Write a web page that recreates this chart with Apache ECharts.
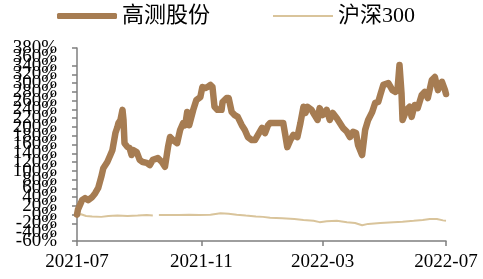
<!DOCTYPE html>
<html>
<head>
<meta charset="utf-8">
<script src="https://cdn.jsdelivr.net/npm/echarts@6/dist/echarts.min.js"></script>
<style>
html,body{margin:0;padding:0;background:#fff;}
#chart{width:483px;height:279px;}
</style>
</head>
<body>
<div id="chart"></div>
<script>
// ---- data ----
const seriesNames = ['高测股份', '沪深300'];
const xTickLabels = ['2021-07-01', '2021-11-01', '2022-03-01', '2022-07-01'];
const yTickValues = [-60, -40, -20, 0, 20, 40, 60, 80, 100, 120, 140, 160, 180, 200, 220, 240, 260, 280, 300, 320, 340, 360, 380];

const stockDates = [
  '2021-07-01','2021-07-02','2021-07-06','2021-07-09','2021-07-12','2021-07-16','2021-07-19','2021-07-22','2021-07-25','2021-07-27',
  '2021-07-31','2021-08-01','2021-08-03','2021-08-05','2021-08-08','2021-08-10','2021-08-11','2021-08-13','2021-08-15','2021-08-16',
  '2021-08-17','2021-08-20','2021-08-22','2021-08-24','2021-08-26','2021-08-29','2021-09-01','2021-09-04','2021-09-08','2021-09-11',
  '2021-09-14','2021-09-19','2021-09-23','2021-09-26','2021-09-29','2021-10-01','2021-10-04','2021-10-08','2021-10-11','2021-10-14',
  '2021-10-16','2021-10-18','2021-10-20','2021-10-24','2021-10-27','2021-10-31','2021-11-02','2021-11-05','2021-11-07','2021-11-10',
  '2021-11-12','2021-11-14','2021-11-17','2021-11-21','2021-11-22','2021-11-26','2021-11-28','2021-12-01','2021-12-04','2021-12-07',
  '2021-12-11','2021-12-14','2021-12-17','2021-12-21','2021-12-24','2021-12-27','2021-12-31','2022-01-03','2022-01-06','2022-01-08',
  '2022-01-15','2022-01-21','2022-01-23','2022-01-25','2022-01-28','2022-01-31','2022-02-04','2022-02-07','2022-02-10','2022-02-12',
  '2022-02-14','2022-02-18','2022-02-21','2022-02-24','2022-02-26','2022-03-01','2022-03-05','2022-03-08','2022-03-11','2022-03-15',
  '2022-03-18','2022-03-21','2022-03-25','2022-03-28','2022-03-31','2022-04-03','2022-04-05','2022-04-09','2022-04-12','2022-04-15',
  '2022-04-19','2022-04-22','2022-04-25','2022-04-27','2022-04-30','2022-05-05','2022-05-09','2022-05-12','2022-05-14','2022-05-16',
  '2022-05-18','2022-05-19','2022-05-23','2022-05-26','2022-05-28','2022-05-31','2022-06-03','2022-06-07','2022-06-10','2022-06-13',
  '2022-06-17','2022-06-20','2022-06-23','2022-06-27','2022-06-30','2022-07-01'
];
const stockValues = [
  0, 12, 33, 38, 33, 40, 49, 61, 86, 106,
  120, 118, 136, 147, 186, 200, 209, 216, 239, 216,
  163, 154, 152, 136, 147, 143, 125, 120, 118, 113,
  125, 129, 120, 109, 154, 177, 170, 163, 193, 209,
  204, 234, 204, 239, 261, 268, 291, 289, 291, 296,
  291, 246, 239, 239, 257, 266, 266, 234, 227, 223,
  204, 193, 177, 170, 170, 182, 198, 186, 204, 209,
  209, 209, 182, 154, 170, 182, 177, 209, 246, 232,
  246, 239, 227, 216, 243, 227, 239, 216, 232, 220,
  209, 198, 189, 177, 189, 186, 159, 136, 193, 216,
  234, 255, 257, 273, 296, 300, 284, 280, 284, 341,
  277, 216, 239, 246, 223, 250, 243, 273, 280, 266,
  307, 314, 284, 303, 284, 275
];

const hsDates = [
  '2021-07-01','2021-07-05','2021-07-10','2021-07-16','2021-07-25','2021-08-01','2021-08-10','2021-08-20','2021-08-30','2021-09-08',
  '2021-09-14','2021-09-17','2021-09-20','2021-09-30','2021-10-10','2021-10-20','2021-10-30','2021-11-10','2021-11-20','2021-11-28',
  '2021-12-06','2021-12-15','2021-12-25','2022-01-01','2022-01-08','2022-01-20','2022-02-01','2022-02-10','2022-02-20','2022-02-26',
  '2022-03-05','2022-03-15','2022-03-25','2022-04-02','2022-04-09','2022-04-15','2022-04-27','2022-05-10','2022-05-19','2022-05-30',
  '2022-06-08','2022-06-15','2022-06-22','2022-06-28','2022-07-01'
];
const hsValues = [
  0, 1, -3, -4, -5, -3, -2, -3, -2, -1,
  -2, null, -1, -1, -1, 0, -1, 0, 3, 2,
  0, -2, -4, -5, -7, -8, -10, -12, -14, -17,
  -15, -14, -17, -19, -24, -21, -19, -17, -16, -14,
  -12, -10, -10, -13, -14
];

// ---- helpers ----
function toTime(s) {
  const p = s.split('-').map(Number);
  return new Date(p[0], p[1] - 1, p[2]).getTime();
}
function pair(dates, vals) {
  return dates.map((d, i) => [toTime(d), vals[i]]);
}

const serifFont = '"Liberation Serif", "Times New Roman", "Noto Sans CJK SC", serif';
const axisColor = '#7f7f7f';
const stockColor = '#a67c52';
const hsColor = '#d9c49b';
const tickTimes = xTickLabels.map(toTime);
// labels next to the extremes, which the library drops when they overlap, go on a label-only twin axis
const innerExtremes = [yTickValues[1], yTickValues[yTickValues.length - 2]];

const legendText = { fontSize: 22, color: '#000', fontFamily: serifFont };
const yLabelBase = { margin: 20, fontSize: 19, color: '#000', fontFamily: serifFont, formatter: '{value}%', hideOverlap: false };

const chart = echarts.init(document.getElementById('chart'), null, { renderer: 'canvas' });
chart.setOption({
  animation: false,
  backgroundColor: '#ffffff',
  legend: [
    {
      top: 5, left: 57, padding: 0, itemWidth: 60, itemHeight: 6, itemGap: 5,
      icon: 'roundRect',
      textStyle: legendText,
      data: [{ name: seriesNames[0], itemStyle: { color: stockColor } }]
    },
    {
      top: 5, left: 273, padding: 0, itemWidth: 60, itemHeight: 2, itemGap: 5,
      icon: 'rect',
      textStyle: legendText,
      data: [{ name: seriesNames[1], itemStyle: { color: hsColor } }]
    }
  ],
  grid: { left: 77, right: 37, top: 48, bottom: 38, containLabel: false },
  xAxis: {
    type: 'value',
    min: toTime(xTickLabels[0]),
    max: toTime(xTickLabels[xTickLabels.length - 1]),
    axisLine: { onZero: false, lineStyle: { color: axisColor, width: 1.5 } },
    axisTick: { show: true, length: 5, customValues: tickTimes, lineStyle: { color: axisColor, width: 1.5 } },
    axisLabel: {
      customValues: tickTimes,
      margin: 12,
      fontSize: 19,
      color: '#000',
      fontFamily: serifFont,
      showMinLabel: true,
      showMaxLabel: true,
      formatter: function (v) {
        const d = new Date(v);
        return d.getFullYear() + '-' + String(d.getMonth() + 1).padStart(2, '0');
      }
    },
    splitLine: { show: false }
  },
  yAxis: [
    {
      type: 'value',
      position: 'left',
      min: yTickValues[0],
      max: yTickValues[yTickValues.length - 1],
      interval: yTickValues[1] - yTickValues[0],
      axisLine: { show: true, onZero: false, lineStyle: { color: axisColor, width: 1.5 } },
      axisTick: { show: true, length: 5, customValues: yTickValues, lineStyle: { color: axisColor, width: 1.5 } },
      axisLabel: Object.assign({ customValues: yTickValues, showMinLabel: true, showMaxLabel: true }, yLabelBase),
      splitLine: { show: false }
    },
    {
      type: 'value',
      position: 'left',
      offset: 0,
      min: yTickValues[0],
      max: yTickValues[yTickValues.length - 1],
      interval: yTickValues[1] - yTickValues[0],
      axisLine: { show: false, onZero: false },
      axisTick: { show: false },
      axisLabel: Object.assign({ customValues: innerExtremes, showMinLabel: true, showMaxLabel: true }, yLabelBase),
      splitLine: { show: false }
    }
  ],
  series: [
    {
      name: seriesNames[0],
      type: 'line',
      yAxisIndex: 0,
      data: pair(stockDates, stockValues),
      showSymbol: false,
      symbol: 'none',
      lineStyle: { color: stockColor, width: 6.5, cap: 'round', join: 'round' },
      itemStyle: { color: stockColor },
      z: 3
    },
    {
      name: seriesNames[1],
      type: 'line',
      yAxisIndex: 0,
      data: pair(hsDates, hsValues),
      showSymbol: false,
      symbol: 'none',
      connectNulls: false,
      lineStyle: { color: hsColor, width: 2 },
      itemStyle: { color: hsColor },
      z: 2
    }
  ]
});
</script>
</body>
</html>
